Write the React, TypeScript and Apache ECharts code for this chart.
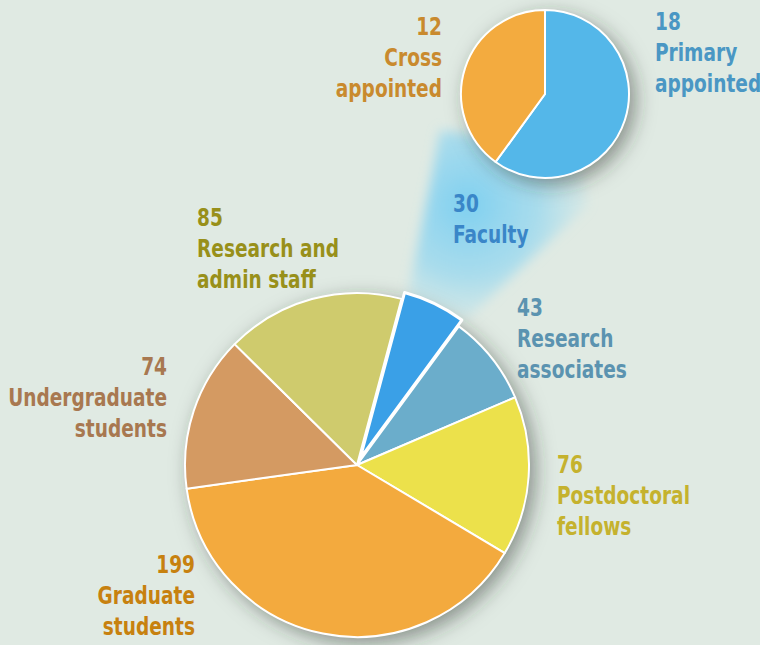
import React, { useEffect, useRef } from "react";
import * as echarts from "echarts";

// Main pie: staff categories (clockwise from Faculty)
const categories = [
  "Faculty",
  "Research associates",
  "Postdoctoral fellows",
  "Graduate students",
  "Undergraduate students",
  "Research and admin staff",
];
const counts = [30, 43, 76, 199, 74, 85];
const labelLines = [
  "Faculty",
  "Research\nassociates",
  "Postdoctoral\nfellows",
  "Graduate\nstudents",
  "Undergraduate\nstudents",
  "Research and\nadmin staff",
];

// Faculty breakdown pie
const facultyCategories = ["Primary appointed", "Cross appointed"];
const facultyCounts = [18, 12];
const facultyLabelLines = ["Primary\nappointed", "Cross\nappointed"];

// styling (kept separate from data)
const mainColors = ["#3aa0e7", "#6badcb", "#ece14b", "#f3aa3e", "#d49a62", "#cfcb6d"];
const mainLabelColors = ["#3a86c8", "#5b93b0", "#c5b22e", "#c7810f", "#a87850", "#98901a"];
const mainLabelPos: [number, number, string][] = [
  [453, 188, "left"],
  [517, 292, "left"],
  [557, 449, "left"],
  [195, 549, "right"],
  [167, 351, "right"],
  [197, 202, "left"],
];
const facultyColors = ["#54b7e9", "#f3ab3f"];
const facultyLabelColors = ["#4a97c4", "#c98a2e"];
const facultyLabelPos: [number, number, string][] = [
  [655, 6, "left"],
  [442, 11, "right"],
];

const BG = "#e0eae3";
const FONT = "'DejaVu Sans Condensed', 'Roboto', sans-serif";

const beamSvg =
  "<svg xmlns='http://www.w3.org/2000/svg' width='760' height='645'>" +
  "<defs><filter id='b' x='-50%' y='-50%' width='200%' height='200%'><feGaussianBlur stdDeviation='6'/></filter>" +
  "<radialGradient id='g' gradientUnits='userSpaceOnUse' cx='468' cy='205' r='130'>" +
  "<stop offset='0' stop-color='#7fd0f0' stop-opacity='1'/>" +
  "<stop offset='0.55' stop-color='#92d6f0' stop-opacity='0.7'/>" +
  "<stop offset='1' stop-color='#b4e2ee' stop-opacity='0.1'/></radialGradient></defs>" +
  "<polygon points='440,130 580,150 588,205 468,318 407,300 432,175' fill='url(#g)' filter='url(#b)'/></svg>";

function makeLabel(num: number, text: string, pos: [number, number, string], color: string) {
  return {
    type: "text",
    z: 100,
    x: pos[0],
    y: pos[1],
    scaleX: 0.86,
    style: {
      text: num + "\n" + text,
      fill: color,
      fontSize: 24,
      fontWeight: "bold",
      fontFamily: FONT,
      lineHeight: 31,
      align: pos[2],
      verticalAlign: "top",
    },
  };
}

export default function App() {
  const ref = useRef<HTMLDivElement>(null);
  useEffect(() => {
    if (!ref.current) return;
    const chart = echarts.init(ref.current, null, { renderer: "svg" });
    const graphics: any[] = [
      {
        type: "image",
        z: -10,
        silent: true,
        style: {
          image: "data:image/svg+xml;charset=utf-8," + encodeURIComponent(beamSvg),
          x: 0,
          y: 0,
          width: 760,
          height: 645,
        },
      },
    ];
    counts.forEach((v, i) => graphics.push(makeLabel(v, labelLines[i], mainLabelPos[i], mainLabelColors[i])));
    facultyCounts.forEach((v, i) =>
      graphics.push(makeLabel(v, facultyLabelLines[i], facultyLabelPos[i], facultyLabelColors[i]))
    );

    const shadowStyle = {
      color: BG,
      shadowBlur: 20,
      shadowOffsetX: 6,
      shadowOffsetY: 6,
      shadowColor: "rgba(40,50,40,0.5)",
    };

    chart.setOption({
      animation: false,
      backgroundColor: BG,
      graphic: graphics,
      series: [
        {
          type: "pie",
          z: 1,
          silent: true,
          center: [357, 465],
          radius: 172,
          label: { show: false },
          labelLine: { show: false },
          itemStyle: shadowStyle,
          data: [{ value: 1, name: "shadow-main" }],
        },
        {
          type: "pie",
          z: 2,
          center: [357, 465],
          radius: 172,
          startAngle: 75,
          clockwise: true,
          selectedMode: "single",
          selectedOffset: 7,
          label: { show: false },
          labelLine: { show: false },
          emphasis: { disabled: true },
          itemStyle: { borderColor: "#ffffff", borderWidth: 2 },
          data: categories.map((c, i) => ({
            name: c,
            value: counts[i],
            selected: i === 0,
            itemStyle: { color: mainColors[i], borderWidth: i === 0 ? 3 : 2 },
          })),
        },
        {
          type: "pie",
          z: 1,
          silent: true,
          center: [545, 94],
          radius: 84,
          label: { show: false },
          labelLine: { show: false },
          itemStyle: shadowStyle,
          data: [{ value: 1, name: "shadow-faculty" }],
        },
        {
          type: "pie",
          z: 2,
          center: [545, 94],
          radius: 84,
          startAngle: 90,
          clockwise: true,
          label: { show: false },
          labelLine: { show: false },
          emphasis: { disabled: true },
          itemStyle: { borderColor: "#ffffff", borderWidth: 2 },
          data: facultyCategories.map((c, i) => ({
            name: c,
            value: facultyCounts[i],
            itemStyle: { color: facultyColors[i] },
          })),
        },
      ],
    });
    return () => chart.dispose();
  }, []);
  return (
    <div
      ref={ref}
      style={{ position: "fixed", left: 0, top: 0, width: 760, height: 645 }}
    />
  );
}
